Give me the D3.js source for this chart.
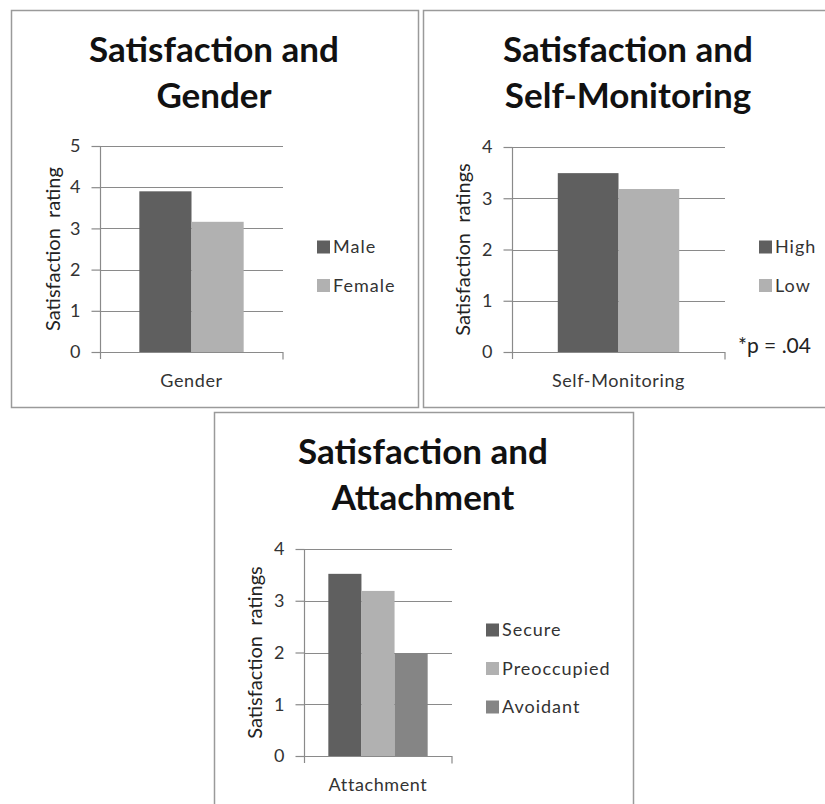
<!DOCTYPE html>
<html>
<head>
<meta charset="utf-8">
<script src="https://cdn.jsdelivr.net/npm/d3@7"></script>
<style>
  html, body { margin: 0; padding: 0; background: #fff; }
  svg { display: block; }
</style>
</head>
<body>
<svg id="chart" width="825" height="804"></svg>
<script>
// ---------- data ----------
const titles = [
  ["Satisfaction and", "Gender"],
  ["Satisfaction and", "Self-Monitoring"],
  ["Satisfaction and", "Attachment"]
];
const categories = ["Gender", "Self-Monitoring", "Attachment"];
const yTitles = ["Satisfaction  rating", "Satisfaction  ratings", "Satisfaction  ratings"];

const genderSeries = ["Male", "Female"];
const genderValues = [3.9, 3.16];
const genderTicks = [0, 1, 2, 3, 4, 5];

const selfSeries = ["High", "Low"];
const selfValues = [3.49, 3.18];
const selfTicks = [0, 1, 2, 3, 4];

const attachSeries = ["Secure", "Preoccupied", "Avoidant"];
const attachValues = [3.52, 3.19, 1.99];
const attachTicks = [0, 1, 2, 3, 4];

const selfNote = "*p = .04";

// ---------- layout / style ----------
const colorsByIndex = ["#5f5f5f", "#b1b1b1", "#858585"];
const panels = [
  { box: [11, 10, 407, 397], plot: [100, 283, 146, 352], pad: 0.377,
    titleX: 214, titleY: 62, yTitleX: 53, legendX: 317, legendY: 247,
    series: genderSeries, values: genderValues, ticks: genderTicks },
  { box: [423, 10, 410, 397], plot: [512, 725, 147, 352], pad: 0.377,
    titleX: 628, titleY: 62, yTitleX: 463, legendX: 759, legendY: 247,
    series: selfSeries, values: selfValues, ticks: selfTicks, note: selfNote },
  { box: [214, 412, 419, 400], plot: [304, 452, 549, 756], pad: 0.245,
    titleX: 423, titleY: 464, yTitleX: 255, legendX: 486, legendY: 630,
    series: attachSeries, values: attachValues, ticks: attachTicks }
];

const svg = d3.select("#chart");
const FONT = "Lato, 'Open Sans', sans-serif";

panels.forEach((p, i) => {
  const g = svg.append("g");
  // panel border
  g.append("rect")
    .attr("x", p.box[0] + 0.5).attr("y", p.box[1] + 0.5)
    .attr("width", p.box[2]).attr("height", p.box[3])
    .attr("fill", "#fff").attr("stroke", "#9a9a9a").attr("stroke-width", 1.5);

  // title
  const t = g.append("text")
    .attr("x", p.titleX).attr("y", p.titleY)
    .attr("text-anchor", "middle")
    .attr("font-family", FONT).attr("font-weight", "bold")
    .attr("font-size", 35).attr("fill", "#111");
  titles[i].forEach((line, k) => {
    t.append("tspan").attr("x", p.titleX).attr("dy", k === 0 ? 0 : 46).text(line);
  });

  const [x0, x1, yTop, yBot] = p.plot;
  const maxTick = p.ticks[p.ticks.length - 1];
  const y = d3.scaleLinear().domain([0, maxTick]).range([yBot, yTop]);
  const xOuter = d3.scaleBand().domain([categories[i]]).range([x0, x1])
    .paddingInner(0).paddingOuter(p.pad);
  const xInner = d3.scaleBand().domain(p.series).range([0, xOuter.bandwidth()]).padding(0);

  // gridlines
  g.append("g").selectAll("line").data(p.ticks.filter(d => d > 0)).join("line")
    .attr("x1", x0).attr("x2", x1)
    .attr("y1", d => Math.round(y(d)) + 0.5).attr("y2", d => Math.round(y(d)) + 0.5)
    .attr("stroke", "#8a8a8a").attr("stroke-width", 1.2);

  // bars
  g.append("g").selectAll("rect").data(p.values).join("rect")
    .attr("x", (d, k) => xOuter(categories[i]) + xInner(p.series[k]))
    .attr("width", xInner.bandwidth())
    .attr("y", d => y(d))
    .attr("height", d => y(0) - y(d))
    .attr("fill", (d, k) => colorsByIndex[k]);

  // y axis
  const yAxis = d3.axisLeft(y).tickValues(p.ticks).tickFormat(d3.format("d"))
    .tickSizeInner(9).tickSizeOuter(0).tickPadding(11);
  const ya = g.append("g").attr("transform", `translate(${x0 + 0.5},0)`).call(yAxis);
  ya.select(".domain").attr("stroke", "#8a8a8a").attr("stroke-width", 1.2)
    .attr("d", `M0,${yTop}V${yBot + 7}`);
  ya.selectAll(".tick line").attr("stroke", "#8a8a8a").attr("stroke-width", 1.2);
  ya.selectAll(".tick text").attr("font-family", FONT).attr("font-size", 18)
    .attr("fill", "#333");

  // x axis
  const xAxis = d3.axisBottom(xOuter).tickSize(0).tickFormat("");
  const xa = g.append("g").attr("transform", `translate(0,${Math.round(yBot) + 0.5})`).call(xAxis);
  xa.select(".domain").attr("stroke", "#8a8a8a").attr("stroke-width", 1.2)
    .attr("d", `M${x0},0H${x1}V7`);

  // x title
  g.append("text")
    .attr("x", (x0 + x1) / 2).attr("y", yBot + 35)
    .attr("text-anchor", "middle")
    .attr("font-family", FONT).attr("font-size", 18).attr("letter-spacing", 0.6)
    .attr("fill", "#333").text(categories[i]);

  // y title
  g.append("text")
    .attr("transform", `translate(${p.yTitleX},${(yTop + yBot) / 2}) rotate(-90)`)
    .attr("text-anchor", "middle").attr("dy", "0.35em")
    .attr("font-family", FONT).attr("font-size", 20)
    .attr("fill", "#222").style("white-space", "pre").text(yTitles[i]);

  // legend
  const lg = g.append("g").selectAll("g").data(p.series).join("g")
    .attr("transform", (d, k) => `translate(${p.legendX},${p.legendY + k * 38.5})`);
  lg.append("rect").attr("x", 0).attr("y", -6.5).attr("width", 13).attr("height", 13)
    .attr("fill", (d, k) => colorsByIndex[k]);
  lg.append("text").attr("x", 16).attr("dy", "0.36em")
    .attr("font-family", FONT).attr("font-size", 18).attr("letter-spacing", 1)
    .attr("fill", "#333").text(d => d);

  if (p.note) {
    g.append("text").attr("x", x1 + 13).attr("y", yBot + 1)
      .attr("font-family", FONT).attr("font-size", 21)
      .attr("fill", "#222").style("white-space", "pre").text(p.note);
  }
});
</script>
</body>
</html>
